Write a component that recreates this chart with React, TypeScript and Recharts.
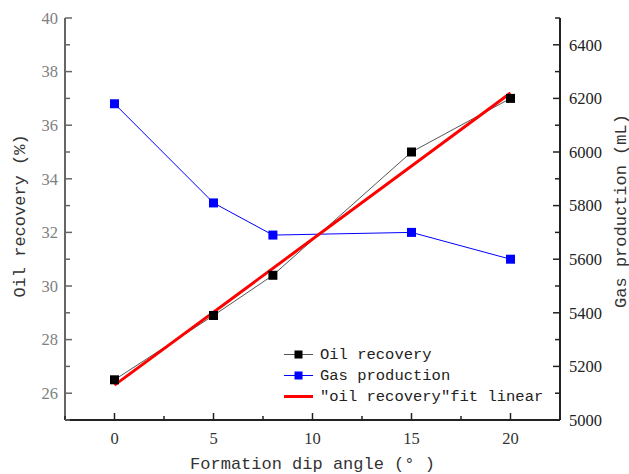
import { ComposedChart, Legend, Line, XAxis, YAxis } from 'recharts';

const dipAngles = [0, 5, 8, 15, 20];
const oilRecovery = [26.5, 28.9, 30.4, 35.0, 37.0];
const gasProduction = [6180, 5810, 5690, 5700, 5600];
const fitAngles = [0, 20];
const fitRecovery = [26.3, 37.2];

const xTicks = [-2.5, 0, 2.5, 5, 7.5, 10, 12.5, 15, 17.5, 20, 22.5];
const xMajor = [0, 5, 10, 15, 20];
const leftTicks = [25, 26, 27, 28, 29, 30, 31, 32, 33, 34, 35, 36, 37, 38, 39, 40];
const leftMajor = [26, 28, 30, 32, 34, 36, 38, 40];
const rightTicks = [
  5000, 5100, 5200, 5300, 5400, 5500, 5600, 5700, 5800, 5900, 6000, 6100, 6200, 6300, 6400, 6500,
];
const rightMajor = [5000, 5200, 5400, 5600, 5800, 6000, 6200, 6400];

const legendItems = [
  { name: 'Oil recovery', line: '#555', marker: '#000', width: 1 },
  { name: 'Gas production', line: '#0000ff', marker: '#0000ff', width: 1 },
  { name: '"oil recovery"fit linear', line: '#ff0000', marker: null, width: 3 },
];

const data = dipAngles.map((angle, i) => ({ angle, oil: oilRecovery[i], gas: gasProduction[i] }));
const fitData = fitAngles.map((angle, i) => ({ angle, fit: fitRecovery[i] }));

const TICK_FONT = "'Liberation Serif', 'DejaVu Serif', serif";
const TITLE_FONT = "'Liberation Mono', 'DejaVu Sans Mono', monospace";

const tickText = { fontFamily: TICK_FONT, fontSize: 16.5 };
const titleText = { fontFamily: TITLE_FONT, fontSize: 17 };

const BottomTick = (props: any) => {
  const { x, y, payload } = props;
  const major = xMajor.includes(payload.value);
  return (
    <g>
      <line x1={x} x2={x} y1={y} y2={y - (major ? 7 : 4)} stroke="#222" strokeWidth={1.5} />
      {major ? (
        <text x={x} y={y + 24} textAnchor="middle" style={tickText} fill="#333">
          {payload.value}
        </text>
      ) : null}
    </g>
  );
};

const TopTick = (props: any) => {
  const { x, y, payload } = props;
  const major = xMajor.includes(payload.value);
  return <line x1={x} x2={x} y1={y} y2={y + (major ? 7 : 4)} stroke="#222" strokeWidth={1.5} />;
};

const LeftTick = (props: any) => {
  const { x, y, payload } = props;
  const major = leftMajor.includes(payload.value);
  return (
    <g>
      <line x1={x} x2={x + (major ? 7 : 5)} y1={y} y2={y} stroke="#666" strokeWidth={1.5} />
      {major ? (
        <text x={x - 7} y={y} dy="0.35em" textAnchor="end" style={tickText} fill="#808080">
          {payload.value}
        </text>
      ) : null}
    </g>
  );
};

const RightTick = (props: any) => {
  const { x, y, payload } = props;
  const major = rightMajor.includes(payload.value);
  return (
    <g>
      <line x1={x} x2={x - (major ? 7 : 5)} y1={y} y2={y} stroke="#222" strokeWidth={1.5} />
      {major ? (
        <text x={x + 9} y={y} dy="0.35em" textAnchor="start" style={tickText} fill="#222">
          {payload.value}
        </text>
      ) : null}
    </g>
  );
};

const squareDot = (fill: string) => (props: any) => {
  const { cx, cy, index } = props;
  if (cx == null || cy == null) return <g key={index} />;
  return <rect key={index} x={cx - 4.5} y={cy - 4.5} width={9} height={9} fill={fill} />;
};

const renderLegend = () => (
  <div style={{ fontFamily: TITLE_FONT, fontSize: 15.5, color: '#222' }}>
    {legendItems.map((item) => (
      <div key={item.name} style={{ display: 'flex', alignItems: 'center', height: 21 }}>
        <svg width={32} height={21} style={{ marginRight: 5 }}>
          <line x1={1} x2={30} y1={10.5} y2={10.5} stroke={item.line} strokeWidth={item.width} />
          {item.marker ? <rect x={11.5} y={6.5} width={8} height={8} fill={item.marker} /> : null}
        </svg>
        <span style={{ whiteSpace: 'pre' }}>{item.name}</span>
      </div>
    ))}
  </div>
);

export default function App() {
  return (
    <div style={{ width: 629, height: 474, background: '#fff' }}>
      <style>{'body{margin:0}'}</style>
      <ComposedChart width={629} height={474} data={data} margin={{ top: 18, right: 5, bottom: 0, left: 5 }}>
        <XAxis
          dataKey="angle"
          type="number"
          domain={[-2.5, 22.5]}
          ticks={xTicks}
          interval={0}
          allowDataOverflow
          height={54}
          tickSize={0}
          tickMargin={0}
          tickLine={false}
          tick={BottomTick}
          axisLine={{ stroke: '#222', strokeWidth: 2 }}
          label={{
            content: (p: any) => {
              const vb = p.viewBox;
              return (
                <text x={vb.x + vb.width / 2} y={vb.y + vb.height - 5} textAnchor="middle" style={titleText} fill="#333">
                  Formation dip angle (° )
                </text>
              );
            },
          }}
        />
        <XAxis
          xAxisId="top"
          orientation="top"
          dataKey="angle"
          type="number"
          domain={[-2.5, 22.5]}
          ticks={xTicks}
          interval={0}
          allowDataOverflow
          height={0}
          tickSize={0}
          tickMargin={0}
          tickLine={false}
          tick={TopTick}
          axisLine={{ stroke: '#222', strokeWidth: 2 }}
        />
        <YAxis
          yAxisId="left"
          type="number"
          domain={[25, 40]}
          ticks={leftTicks}
          interval={0}
          allowDataOverflow
          width={60}
          tickSize={0}
          tickMargin={0}
          tickLine={false}
          tick={LeftTick}
          axisLine={{ stroke: '#666', strokeWidth: 2 }}
          label={{
            content: (p: any) => {
              const vb = p.viewBox;
              const cx = vb.x + 15;
              const cy = vb.y + vb.height / 2 - 3;
              return (
                <text
                  x={cx}
                  y={cy}
                  transform={`rotate(-90 ${cx} ${cy})`}
                  textAnchor="middle"
                  dominantBaseline="central"
                  style={titleText}
                  fill="#333"
                >
                  Oil recovery (%)
                </text>
              );
            },
          }}
        />
        <YAxis
          yAxisId="right"
          orientation="right"
          type="number"
          domain={[5000, 6500]}
          ticks={rightTicks}
          interval={0}
          allowDataOverflow
          width={64}
          tickSize={0}
          tickMargin={0}
          tickLine={false}
          tick={RightTick}
          axisLine={{ stroke: '#222', strokeWidth: 2 }}
          label={{
            content: (p: any) => {
              const vb = p.viewBox;
              const cx = vb.x + vb.width - 3;
              const cy = vb.y + vb.height / 2 - 8;
              return (
                <text
                  x={cx}
                  y={cy}
                  transform={`rotate(-90 ${cx} ${cy})`}
                  textAnchor="middle"
                  dominantBaseline="central"
                  style={titleText}
                  fill="#333"
                >
                  Gas production (mL)
                </text>
              );
            },
          }}
        />
        <Legend
          layout="vertical"
          align="center"
          verticalAlign="middle"
          content={renderLegend}
          wrapperStyle={{ left: 283, top: 344, width: 'auto' }}
        />
        <Line
          yAxisId="right"
          dataKey="gas"
          name="Gas production"
          stroke="#0000ff"
          strokeWidth={1}
          dot={squareDot('#0000ff')}
          activeDot={false}
          isAnimationActive={false}
        />
        <Line
          yAxisId="left"
          dataKey="oil"
          name="Oil recovery"
          stroke="#555"
          strokeWidth={1}
          dot={squareDot('#000')}
          activeDot={false}
          isAnimationActive={false}
        />
        <Line
          yAxisId="left"
          data={fitData}
          dataKey="fit"
          name='"oil recovery"fit linear'
          stroke="#ff0000"
          strokeWidth={3}
          dot={false}
          activeDot={false}
          isAnimationActive={false}
        />
      </ComposedChart>
    </div>
  );
}
